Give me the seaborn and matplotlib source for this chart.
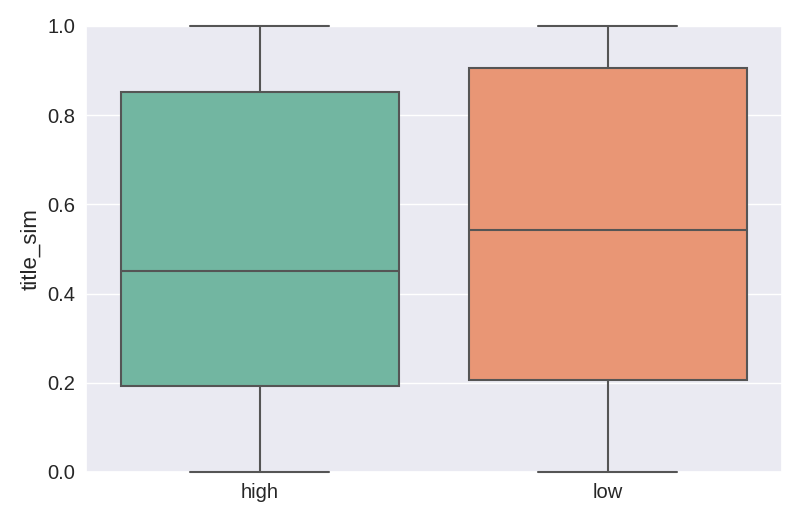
import matplotlib
matplotlib.use("Agg")
import matplotlib.pyplot as plt
import seaborn as sns
import pandas as pd

categories = ["high", "low"]
high_values = [0.0, 0.193, 0.450, 0.852, 1.0]
low_values = [0.0, 0.207, 0.543, 0.905, 1.0]

df = pd.DataFrame({
    "group": ["high"] * len(high_values) + ["low"] * len(low_values),
    "title_sim": high_values + low_values,
})

sns.set_theme(style="darkgrid", palette="Set2")
plt.rcParams["font.family"] = ["Liberation Sans", "DejaVu Sans"]

fig, ax = plt.subplots(figsize=(8, 5.08), dpi=100)
fig.subplots_adjust(left=0.1075, right=0.977, top=0.949, bottom=0.071)
sns.boxplot(data=df, x="group", y="title_sim", order=categories, hue="group",
            palette="Set2", saturation=0.75, width=0.8, linewidth=1.5,
            linecolor="#555555", whis=1.5, ax=ax, legend=False)
for ln in ax.lines:
    ln.set_clip_on(False)
    ln.set_color("#555555")
    ln.set_alpha(1)
    ln.set_zorder(3)
ax.set_ylim(0, 1.0)
ax.set_xlabel("")
ax.set_ylabel("title_sim", fontsize=16, labelpad=4)
ax.tick_params(axis="both", labelsize=14.5, length=0, pad=8)
ax.grid(axis="x", visible=False)
fig.savefig("out.png", dpi=100)
